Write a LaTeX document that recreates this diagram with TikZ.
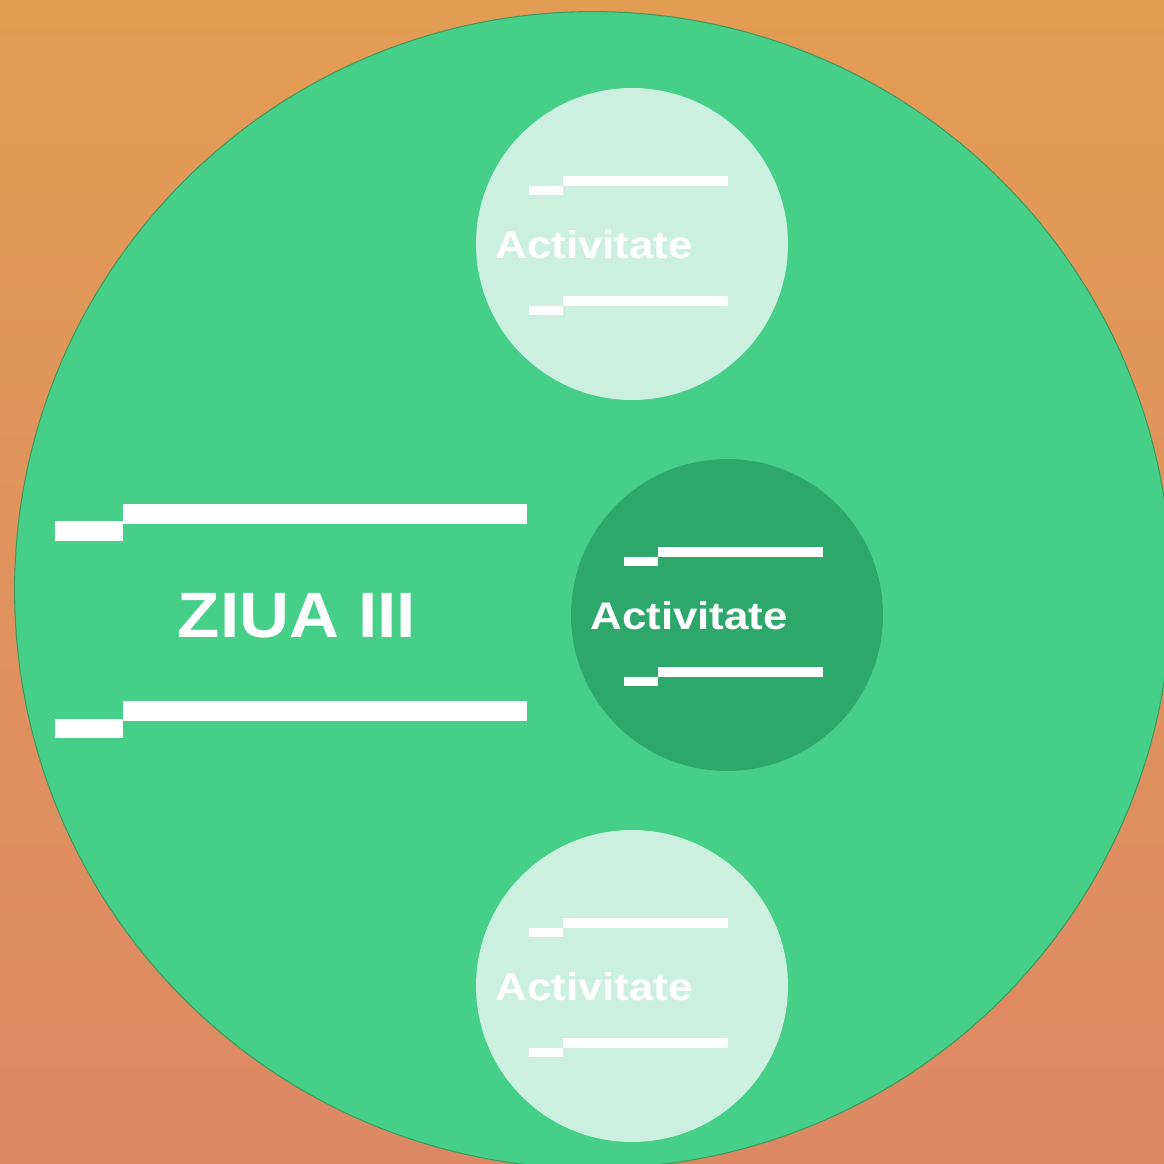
\documentclass[tikz,border=0pt]{standalone}
\usepackage{fontspec}
\usetikzlibrary{positioning}
\newfontfamily\dayfont{Liberation Sans}[FakeStretch=1.08]
\newfontfamily\actfont{Liberation Sans}[FakeStretch=1.14]
\definecolor{bgtop}{HTML}{E39C54}
\definecolor{bgbottom}{HTML}{DD8864}
\definecolor{daygreen}{HTML}{46CF88}
\definecolor{dayedge}{HTML}{3E9A5C}
\definecolor{actlight}{HTML}{CCF0DF}
\definecolor{actdark}{HTML}{2DA86A}

\begin{document}
\begin{tikzpicture}[x=0.02cm, y=0.02cm,
    disc/.style={circle, inner sep=0pt, minimum size=6.24cm},
    lightdisc/.style={disc, fill=actlight},
    darkdisc/.style={disc, fill=actdark},
    bar/.style={fill=white},
    daytext/.style={anchor=base, inner sep=0pt, text=white, font=\dayfont\bfseries\fontsize{36.5}{40}\selectfont},
    acttext/.style={anchor=base west, inner sep=0pt, text=white, font=\actfont\bfseries\fontsize{21.9}{24}\selectfont}]
        \useasboundingbox (0,0) rectangle (1164,1164);
        \clip (0,0) rectangle (1164,1164);
        \shade[top color=bgtop, bottom color=bgbottom] (0,0) rectangle (1164,1164);

        \node[circle, inner sep=0pt, minimum size=23.14cm, fill=daygreen, draw=dayedge, line width=0.6pt] (day) at (593,574) {};

        \fill[bar] (55,623) rectangle (123,643);
        \fill[bar] (123,640) rectangle (527,660);
        \fill[bar] (55,426) rectangle (123,445);
        \fill[bar] (123,443) rectangle (527,463);
        \node[daytext] (daylabel) at (297,526) {ZIUA III};

        \foreach \cx/\cy/\sty/\nm in {632/920/lightdisc/acttop, 727/549/darkdisc/actmid, 632/178/lightdisc/actbot} {
            \node[\sty] (\nm) at (\cx,\cy) {};
            \fill[bar] (\cx-103,\cy+49) rectangle (\cx-69,\cy+58);
            \fill[bar] (\cx-69,\cy+58) rectangle (\cx+96,\cy+68);
            \fill[bar] (\cx-103,\cy-71) rectangle (\cx-69,\cy-62);
            \fill[bar] (\cx-69,\cy-62) rectangle (\cx+96,\cy-52);
            \node[acttext] (\nm label) at (\cx-137,\cy-15) {Activitate};
        }
    \end{tikzpicture}
\end{document}
